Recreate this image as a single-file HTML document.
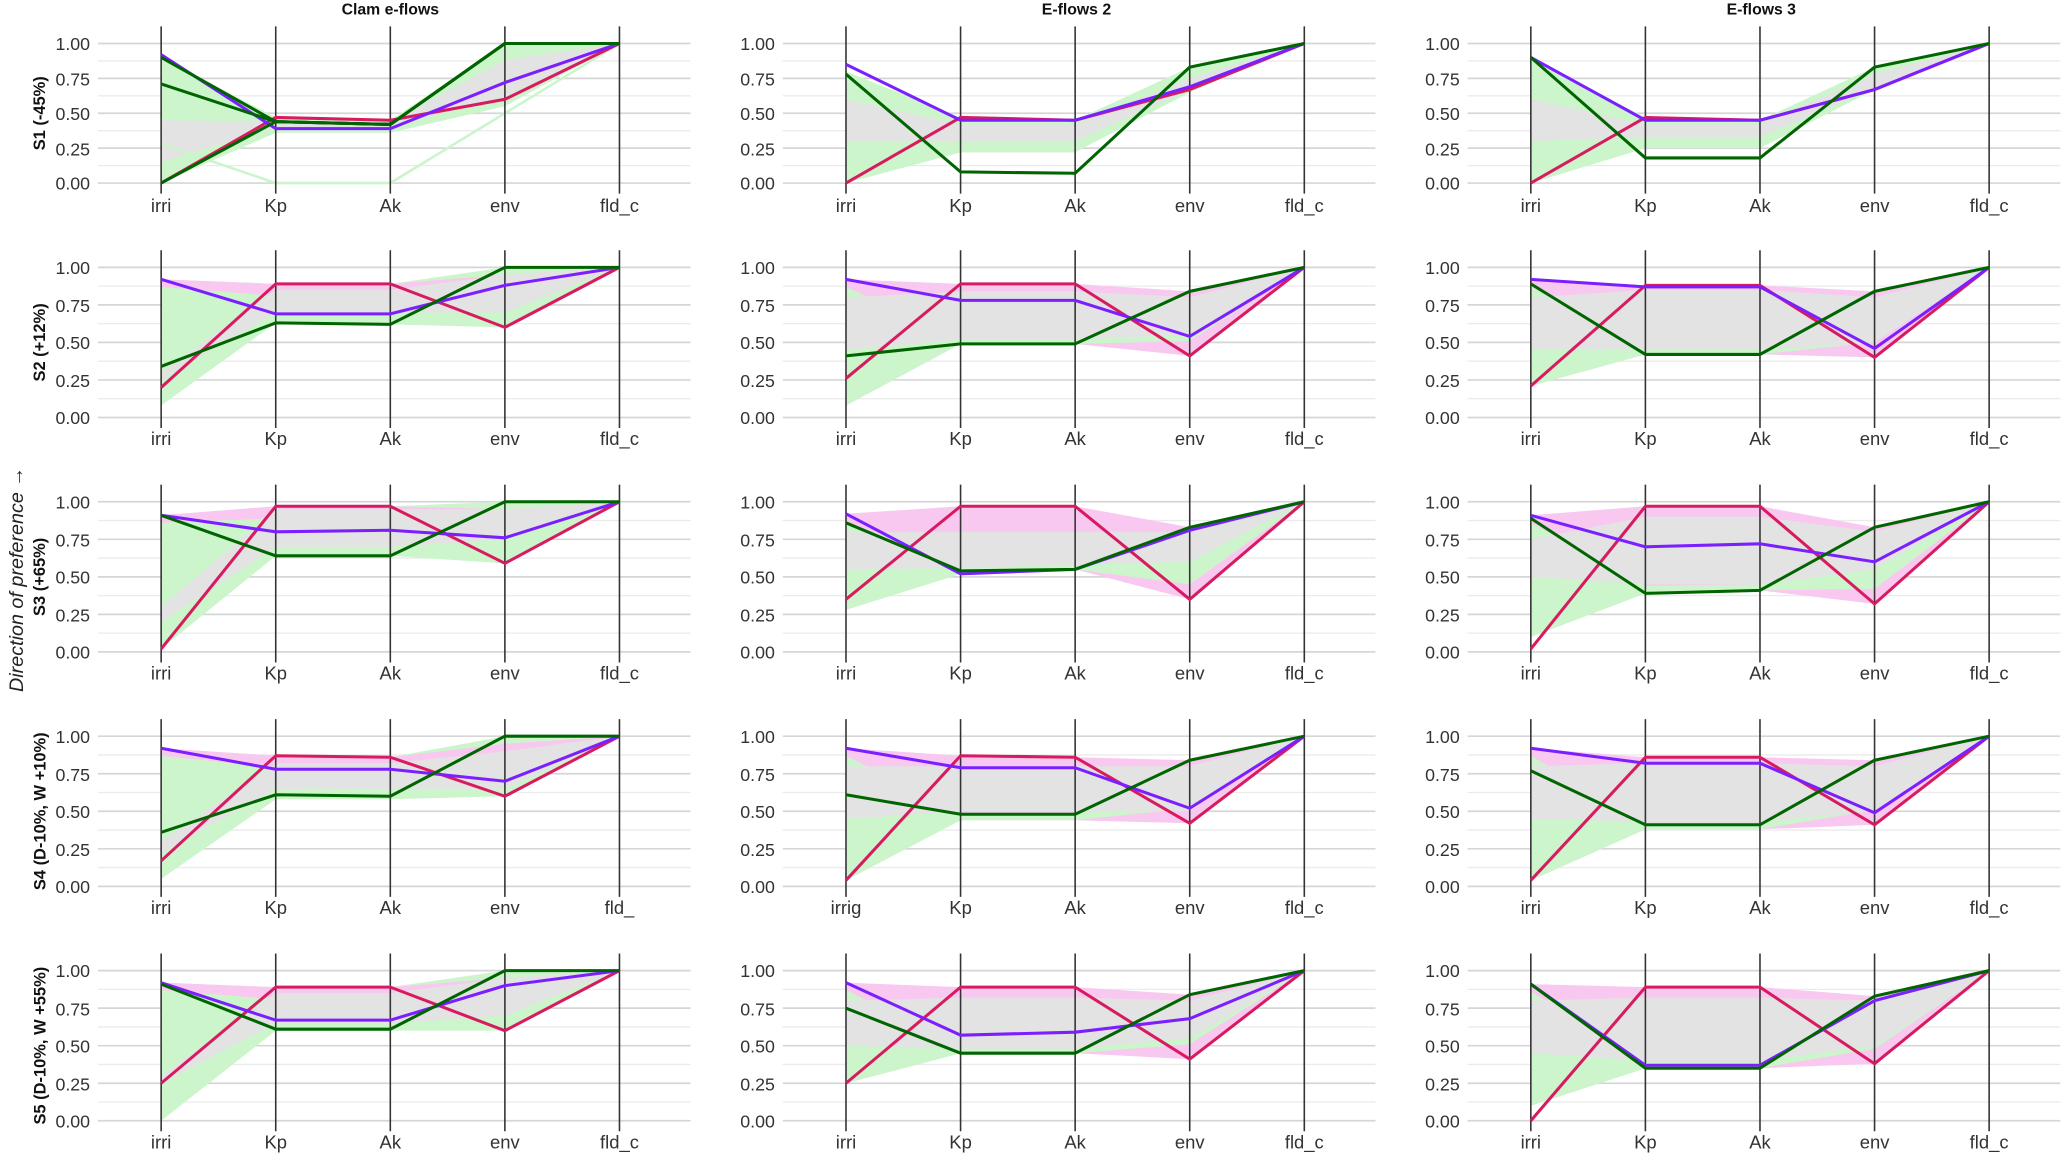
<!DOCTYPE html>
<html><head><meta charset="utf-8"><style>
html,body{margin:0;padding:0;background:#fff;}
svg{display:block;font-family:"Liberation Sans",sans-serif;}
.t{font-size:13.5px;fill:#333;text-anchor:end;}
.a{font-size:14px;fill:#333;text-anchor:middle;}
.h{font-size:12px;font-weight:bold;fill:#111;text-anchor:middle;}
.r{font-size:12.5px;font-weight:bold;fill:#111;text-anchor:middle;}
</style></head><body>
<svg id="s" width="2066" height="1155" viewBox="0 0 1568 877" xmlns="http://www.w3.org/2000/svg">
<g id="shapes"></g>
<text class="h" x="296" y="11">Clam e-flows</text>
<text class="h" x="817" y="11">E-flows 2</text>
<text class="h" x="1337" y="11">E-flows 3</text>
<text x="17" y="440" transform="rotate(-90 17 440)" style="font-size:15px;font-style:italic;fill:#222;text-anchor:middle">Direction of preference →</text>
<text class="r" x="34" y="86" transform="rotate(-90 34 86)">S1 (-45%)</text>
<text class="r" x="34" y="260" transform="rotate(-90 34 260)">S2 (+12%)</text>
<text class="r" x="34" y="438" transform="rotate(-90 34 438)">S3 (+65%)</text>
<text class="r" x="34" y="616" transform="rotate(-90 34 616)">S4 (D-10%, W +10%)</text>
<text class="r" x="34" y="794" transform="rotate(-90 34 794)">S5 (D-10%, W +55%)</text>
<g id="ticks">
<text class="t" x="68" y="38">1.00</text><text class="t" x="68" y="65">0.75</text><text class="t" x="68" y="91">0.50</text><text class="t" x="68" y="118">0.25</text><text class="t" x="68" y="144">0.00</text>
<text class="t" x="588" y="38">1.00</text><text class="t" x="588" y="65">0.75</text><text class="t" x="588" y="91">0.50</text><text class="t" x="588" y="118">0.25</text><text class="t" x="588" y="144">0.00</text>
<text class="t" x="1108" y="38">1.00</text><text class="t" x="1108" y="65">0.75</text><text class="t" x="1108" y="91">0.50</text><text class="t" x="1108" y="118">0.25</text><text class="t" x="1108" y="144">0.00</text>
<text class="t" x="68" y="208">1.00</text><text class="t" x="68" y="237">0.75</text><text class="t" x="68" y="265">0.50</text><text class="t" x="68" y="294">0.25</text><text class="t" x="68" y="322">0.00</text>
<text class="t" x="588" y="208">1.00</text><text class="t" x="588" y="237">0.75</text><text class="t" x="588" y="265">0.50</text><text class="t" x="588" y="294">0.25</text><text class="t" x="588" y="322">0.00</text>
<text class="t" x="1108" y="208">1.00</text><text class="t" x="1108" y="237">0.75</text><text class="t" x="1108" y="265">0.50</text><text class="t" x="1108" y="294">0.25</text><text class="t" x="1108" y="322">0.00</text>
<text class="t" x="68" y="386">1.00</text><text class="t" x="68" y="415">0.75</text><text class="t" x="68" y="443">0.50</text><text class="t" x="68" y="472">0.25</text><text class="t" x="68" y="500">0.00</text>
<text class="t" x="588" y="386">1.00</text><text class="t" x="588" y="415">0.75</text><text class="t" x="588" y="443">0.50</text><text class="t" x="588" y="472">0.25</text><text class="t" x="588" y="500">0.00</text>
<text class="t" x="1108" y="386">1.00</text><text class="t" x="1108" y="415">0.75</text><text class="t" x="1108" y="443">0.50</text><text class="t" x="1108" y="472">0.25</text><text class="t" x="1108" y="500">0.00</text>
<text class="t" x="68" y="564">1.00</text><text class="t" x="68" y="593">0.75</text><text class="t" x="68" y="621">0.50</text><text class="t" x="68" y="650">0.25</text><text class="t" x="68" y="678">0.00</text>
<text class="t" x="588" y="564">1.00</text><text class="t" x="588" y="593">0.75</text><text class="t" x="588" y="621">0.50</text><text class="t" x="588" y="650">0.25</text><text class="t" x="588" y="678">0.00</text>
<text class="t" x="1108" y="564">1.00</text><text class="t" x="1108" y="593">0.75</text><text class="t" x="1108" y="621">0.50</text><text class="t" x="1108" y="650">0.25</text><text class="t" x="1108" y="678">0.00</text>
<text class="t" x="68" y="742">1.00</text><text class="t" x="68" y="771">0.75</text><text class="t" x="68" y="799">0.50</text><text class="t" x="68" y="828">0.25</text><text class="t" x="68" y="856">0.00</text>
<text class="t" x="588" y="742">1.00</text><text class="t" x="588" y="771">0.75</text><text class="t" x="588" y="799">0.50</text><text class="t" x="588" y="828">0.25</text><text class="t" x="588" y="856">0.00</text>
<text class="t" x="1108" y="742">1.00</text><text class="t" x="1108" y="771">0.75</text><text class="t" x="1108" y="799">0.50</text><text class="t" x="1108" y="828">0.25</text><text class="t" x="1108" y="856">0.00</text>
</g>
<g id="axlab">
<text class="a" x="122" y="161">irri</text><text class="a" x="209" y="161">Kp</text><text class="a" x="296" y="161">Ak</text><text class="a" x="383" y="161">env</text><text class="a" x="470" y="161">fld_c</text>
<text class="a" x="642" y="161">irri</text><text class="a" x="729" y="161">Kp</text><text class="a" x="816" y="161">Ak</text><text class="a" x="903" y="161">env</text><text class="a" x="990" y="161">fld_c</text>
<text class="a" x="1162" y="161">irri</text><text class="a" x="1249" y="161">Kp</text><text class="a" x="1336" y="161">Ak</text><text class="a" x="1423" y="161">env</text><text class="a" x="1510" y="161">fld_c</text>
<text class="a" x="122" y="338">irri</text><text class="a" x="209" y="338">Kp</text><text class="a" x="296" y="338">Ak</text><text class="a" x="383" y="338">env</text><text class="a" x="470" y="338">fld_c</text>
<text class="a" x="642" y="338">irri</text><text class="a" x="729" y="338">Kp</text><text class="a" x="816" y="338">Ak</text><text class="a" x="903" y="338">env</text><text class="a" x="990" y="338">fld_c</text>
<text class="a" x="1162" y="338">irri</text><text class="a" x="1249" y="338">Kp</text><text class="a" x="1336" y="338">Ak</text><text class="a" x="1423" y="338">env</text><text class="a" x="1510" y="338">fld_c</text>
<text class="a" x="122" y="516">irri</text><text class="a" x="209" y="516">Kp</text><text class="a" x="296" y="516">Ak</text><text class="a" x="383" y="516">env</text><text class="a" x="470" y="516">fld_c</text>
<text class="a" x="642" y="516">irri</text><text class="a" x="729" y="516">Kp</text><text class="a" x="816" y="516">Ak</text><text class="a" x="903" y="516">env</text><text class="a" x="990" y="516">fld_c</text>
<text class="a" x="1162" y="516">irri</text><text class="a" x="1249" y="516">Kp</text><text class="a" x="1336" y="516">Ak</text><text class="a" x="1423" y="516">env</text><text class="a" x="1510" y="516">fld_c</text>
<text class="a" x="122" y="694">irri</text><text class="a" x="209" y="694">Kp</text><text class="a" x="296" y="694">Ak</text><text class="a" x="383" y="694">env</text><text class="a" x="470" y="694">fld_</text>
<text class="a" x="642" y="694">irrig</text><text class="a" x="729" y="694">Kp</text><text class="a" x="816" y="694">Ak</text><text class="a" x="903" y="694">env</text><text class="a" x="990" y="694">fld_c</text>
<text class="a" x="1162" y="694">irri</text><text class="a" x="1249" y="694">Kp</text><text class="a" x="1336" y="694">Ak</text><text class="a" x="1423" y="694">env</text><text class="a" x="1510" y="694">fld_c</text>
<text class="a" x="122" y="872">irri</text><text class="a" x="209" y="872">Kp</text><text class="a" x="296" y="872">Ak</text><text class="a" x="383" y="872">env</text><text class="a" x="470" y="872">fld_c</text>
<text class="a" x="642" y="872">irri</text><text class="a" x="729" y="872">Kp</text><text class="a" x="816" y="872">Ak</text><text class="a" x="903" y="872">env</text><text class="a" x="990" y="872">fld_c</text>
<text class="a" x="1162" y="872">irri</text><text class="a" x="1249" y="872">Kp</text><text class="a" x="1336" y="872">Ak</text><text class="a" x="1423" y="872">env</text><text class="a" x="1510" y="872">fld_c</text>
</g>
</svg>
<script>
var NS="http://www.w3.org/2000/svg",G=document.getElementById("shapes");
function el(t,a){var e=document.createElementNS(NS,t);for(var k in a)e.setAttribute(k,a[k]);G.appendChild(e);return e;}
var cols=[122,642,1162],rows=[[33,139],[203,317],[381,495],[559,673],[737,851]],dx=87;
var GR="#ccf5cc",PK="#f9c8f0",GY="#e3e3e3";
var D=[
[{P:[.92,.39,.39,.72,1],R:[0,.47,.45,.6,1],G:[[.9,.44,.42,1,1],[.71,.44,.42,1,1],[0,.44,.42,1,1]],f:GR,u:[.9,.47,.45,1,1],l:[0,.36,.36,.55,1],gu:[.45,.44,.44,.88,1],gl:[.15,.4,.4,.62,1],x:[.28,0,0,.5,1]},
 {P:[.85,.45,.45,.69,1],R:[0,.47,.45,.67,1],G:[[.78,.08,.07,.83,1]],f:GR,u:[.8,.47,.45,.83,1],l:[0,.22,.22,.65,1],gu:[.6,.42,.42,.75,1],gl:[.3,.3,.3,.67,1]},
 {P:[.9,.45,.45,.67,1],R:[0,.47,.45,.67,1],G:[[.9,.18,.18,.83,1]],f:GR,u:[.9,.47,.45,.83,1],l:[0,.25,.25,.67,1],gu:[.6,.42,.42,.78,1],gl:[.3,.33,.33,.68,1]}],
[{P:[.92,.69,.69,.88,1],R:[.2,.89,.89,.6,1],G:[[.34,.63,.62,1,1]],f:GR,u:[.92,.89,.89,1,1],l:[.08,.63,.62,.6,1],gu:[.3,.85,.85,.95,1],gl:[.25,.7,.7,.7,1],pk:1},
 {P:[.92,.78,.78,.54,1],R:[.26,.89,.89,.41,1],G:[[.41,.49,.49,.84,1]],f:PK,u:[.92,.89,.89,.84,1],l:[.08,.49,.49,.41,1],gu:[.8,.84,.84,.8,1],gl:[.45,.52,.52,.55,1]},
 {P:[.92,.87,.87,.46,1],R:[.21,.88,.88,.4,1],G:[[.89,.42,.42,.84,1]],f:PK,u:[.92,.88,.88,.84,1],l:[.21,.42,.42,.4,1],gu:[.8,.85,.85,.8,1],gl:[.45,.45,.45,.5,1]}],
[{P:[.91,.8,.81,.76,1],R:[.02,.97,.97,.59,1],G:[[.91,.64,.64,1,1]],f:GR,u:[.91,.97,.97,1,1],l:[.02,.64,.64,.59,1],gu:[.3,.95,.95,.95,1],gl:[.2,.7,.7,.75,1],pk:1},
 {P:[.92,.52,.55,.81,1],R:[.35,.97,.97,.35,1],G:[[.86,.54,.55,.83,1]],f:PK,u:[.92,.97,.97,.83,1],l:[.28,.52,.55,.35,1],gu:[.8,.8,.8,.8,1],gl:[.55,.56,.58,.6,1]},
 {P:[.91,.7,.72,.6,1],R:[.02,.97,.97,.32,1],G:[[.89,.39,.41,.83,1]],f:PK,u:[.91,.97,.97,.83,1],l:[.1,.39,.41,.32,1],gu:[.75,.9,.9,.8,1],gl:[.5,.45,.45,.55,1]}],
[{P:[.92,.78,.78,.7,1],R:[.17,.87,.86,.6,1],G:[[.36,.61,.6,1,1]],f:GR,u:[.92,.87,.86,1,1],l:[.05,.58,.58,.6,1],gu:[.3,.82,.82,.9,1],gl:[.22,.65,.65,.65,1],pk:1},
 {P:[.92,.79,.79,.52,1],R:[.04,.87,.86,.42,1],G:[[.61,.48,.48,.84,1]],f:PK,u:[.92,.87,.86,.84,1],l:[.04,.44,.44,.42,1],gu:[.8,.8,.8,.8,1],gl:[.45,.5,.5,.5,1]},
 {P:[.92,.82,.82,.49,1],R:[.04,.86,.86,.41,1],G:[[.77,.41,.41,.84,1]],f:PK,u:[.92,.86,.86,.84,1],l:[.04,.38,.38,.41,1],gu:[.8,.82,.82,.8,1],gl:[.45,.43,.43,.5,1]}],
[{P:[.92,.67,.67,.9,1],R:[.25,.89,.89,.6,1],G:[[.91,.61,.61,1,1]],f:GR,u:[.92,.89,.89,1,1],l:[0,.6,.6,.6,1],gu:[.3,.85,.85,.95,1],gl:[.25,.65,.65,.7,1],pk:1},
 {P:[.92,.57,.59,.68,1],R:[.25,.89,.89,.41,1],G:[[.75,.45,.45,.84,1]],f:PK,u:[.92,.89,.89,.84,1],l:[.25,.45,.45,.41,1],gu:[.8,.82,.82,.8,1],gl:[.5,.48,.48,.55,1]},
 {P:[.91,.37,.37,.8,1],R:[0,.89,.89,.38,1],G:[[.91,.35,.35,.83,1]],f:PK,u:[.91,.89,.89,.83,1],l:[.1,.35,.35,.38,1],gu:[.8,.82,.82,.8,1],gl:[.45,.4,.4,.5,1]}]
];
for(var r=0;r<5;r++)for(var c=0;c<3;c++){
 var x0=cols[c],y1=rows[r][0],y0=rows[r][1],h=y0-y1,d=D[r][c];
 var Y=function(v){return y0-v*h;},X=function(i){return x0+i*dx;};
 for(var k=0;k<=8;k++){var yy=y0-k*h/8;el("line",{x1:x0-48,x2:x0+402,y1:yy,y2:yy,stroke:k%2?"#ebebeb":"#d6d6d6","stroke-width":k%2?1:1.3});}
 function poly(u,l,f){var p=[];for(var i=0;i<5;i++)p.push(X(i)+","+Y(u[i]));for(var i=4;i>=0;i--)p.push(X(i)+","+Y(l[i]));el("polygon",{points:p.join(" "),fill:f});}
 poly(d.u,d.l,d.f);
 if(d.pk){poly([d.u[0],d.u[1],d.u[2],d.u[3]-.05,1],[d.u[0]-.05,d.u[1]-.08,d.u[2]-.08,d.u[3]-.15,1],PK);}
 if(c>0){poly([d.u[0]-.05,(d.gl[1]+d.l[1])/2+.02,(d.gl[2]+d.l[2])/2+.02,d.gl[3]+.05,1],[d.l[0],d.l[1],d.l[2],d.l[3]+.1,1],GR);}
 poly(d.gu,d.gl,GY);
 if(d.x)el("polyline",{points:d.x.map(function(v,i){return X(i)+","+Y(v)}).join(" "),fill:"none",stroke:GR,"stroke-width":2});
 for(var i=0;i<5;i++)el("line",{x1:X(i),x2:X(i),y1:y1-13,y2:y0+8,stroke:"#333","stroke-width":1.2});
 function ln(v,col){el("polyline",{points:v.map(function(v,i){return X(i)+","+Y(v)}).join(" "),fill:"none",stroke:col,"stroke-width":2.3});}
 ln(d.R,"#d81b60");ln(d.P,"#7b1fff");d.G.forEach(function(g){ln(g,"#006400");});
}
</script>
</body></html>
